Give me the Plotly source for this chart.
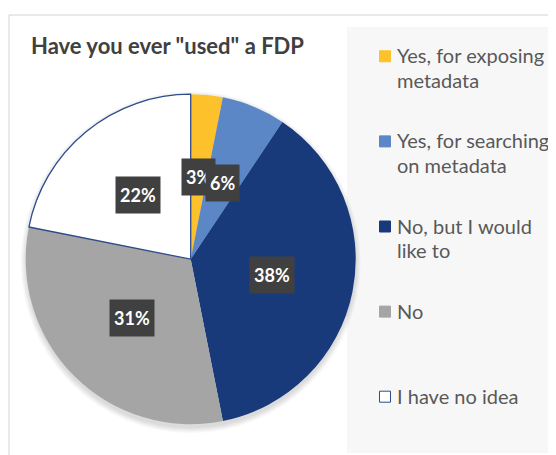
import math
import plotly.graph_objects as go

# ---- data ----
labels = ["Yes, for exposing metadata", "Yes, for searching on metadata",
          "No, but I would like to", "No", "I have no idea"]
legend_lines = [["Yes, for exposing", "metadata"],
                ["Yes, for searching", "on metadata"],
                ["No, but I would", "like to"],
                ["No"],
                ["I have no idea"]]
counts = [1, 2, 12, 10, 7]
colors = ["#FCC12B", "#5B87C6", "#183A7B", "#A5A5A5", "#FFFFFF"]
title_text = 'Have you ever "used" a FDP'

# ---- layout constants (page pixels; page body has an 8px margin) ----
W, H = 556, 455
OFF = 8
CX, CY, R = 190.7 - OFF, 259.2 - OFF, 165.0


def px(x):
    return (x - OFF) / W


def py(y):
    return 1 - (y - OFF) / H


fig = go.Figure()
fig.add_trace(go.Pie(
    labels=labels, values=counts, sort=False, direction="clockwise", rotation=0,
    marker=dict(colors=colors,
                line=dict(color=["rgba(0,0,0,0)"] * 4 + ["#2E4B8A"],
                          width=[0, 0, 0, 0, 1.3])),
    textinfo="none", hoverinfo="label+percent", showlegend=False,
    domain=dict(x=[(CX - R) / W, (CX + R) / W],
                y=[(H - CY - R) / H, (H - CY + R) / H]),
))

shapes = [
    # chart frame
    dict(type="rect", xref="paper", yref="paper", x0=px(9), x1=1.05, y0=-0.05,
         y1=py(15), line=dict(color="#D4D4D4", width=1), fillcolor="white",
         layer="below"),
    # legend panel
    dict(type="rect", xref="paper", yref="paper", x0=px(347), x1=1.05,
         y0=py(453), y1=py(27), line=dict(width=0), fillcolor="#F7F7F7",
         layer="below"),
]
# soft shadow of the pie
for k in range(6, 0, -1):
    shapes.append(dict(type="circle", xref="paper", yref="paper",
                       x0=px(190.7 - R - k + 1), x1=px(190.7 + R + k - 1),
                       y0=py(259.2 + 3 + R + k), y1=py(259.2 + 3 - R - k),
                       line=dict(width=0), fillcolor="rgba(0,0,0,0.022)",
                       layer="below"))

annotations = [dict(text="<b>%s</b>" % title_text, xref="paper", yref="paper",
                    x=px(29), y=py(45.5), xanchor="left", yanchor="middle",
                    showarrow=False, font=dict(family="Lato", size=22, color="#404040"))]

# data labels
total = sum(counts)
cum = 0
for v in counts:
    mid = (cum + v / 2) / total
    cum += v
    a = 2 * math.pi * mid
    lx = 190.7 + 0.5 * R * math.sin(a)
    ly = 259.2 - 0.5 * R * math.cos(a)
    pct = 100 * v / total
    annotations.append(dict(
        text="<b>%d%%</b>" % math.floor(pct + 0.5), xref="paper", yref="paper",
        x=px(lx), y=py(ly), xanchor="center", yanchor="middle", showarrow=False,
        font=dict(family="Lato", size=18, color="white"),
        bgcolor="#404040", borderpad=4, height=28))

# legend
FIRST_BASE, STEP, LINE = 62.3, 85.1, 24.4
for i, lines in enumerate(legend_lines):
    base = FIRST_BASE + i * STEP
    shapes.append(dict(type="rect", xref="paper", yref="paper",
                       x0=px(379.5), x1=px(390.5), y0=py(base - 0.5),
                       y1=py(base - 11.5),
                       fillcolor=colors[i],
                       line=dict(color="#2E4B8A" if i == 4 else colors[i], width=1)))
    for j, t in enumerate(lines):
        b = base + j * LINE
        annotations.append(dict(text=t, xref="paper", yref="paper", x=px(395),
                                y=py(b - 7), xanchor="left", yanchor="middle",
                                showarrow=False,
                                font=dict(family="Lato", size=20, color="#595959")))

fig.update_layout(width=W, height=H, margin=dict(l=0, r=0, t=0, b=0),
                  paper_bgcolor="white", plot_bgcolor="white",
                  shapes=shapes, annotations=annotations, showlegend=False)
fig.write_html("out.html")
